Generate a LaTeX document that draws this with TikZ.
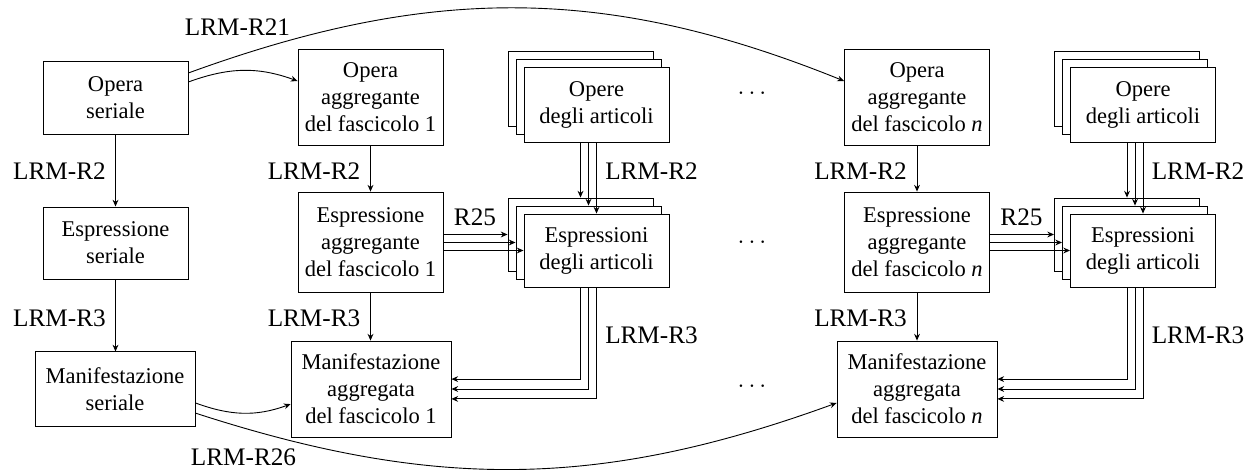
\documentclass[tikz,border=0pt]{standalone}
\usepackage{fontspec}
\setmainfont{Liberation Serif}
\usetikzlibrary{arrows.meta}
\begin{document}
\begin{tikzpicture}[x=0.444pt,y=0.444pt,
  box/.style={draw, fill=white, align=center, inner sep=0pt, font=\fontsize{10}{12}\selectfont, minimum width=64.4pt},
  lbl/.style={font=\fontsize{11.2}{13}\selectfont, inner sep=0pt},
  arr/.style={-{Stealth[length=3pt,width=2.6pt,inset=1pt]}}]
\useasboundingbox (0,0) rectangle (1247,470);

% left column
\node[box, minimum height=32.4pt] (os) at (115.5,372.5) {Opera\\seriale};
\node[box, minimum height=32pt] (es) at (115.5,227) {Espressione\\seriale};
\node[box, minimum width=71pt, minimum height=32.9pt] (ms) at (115,81) {Manifestazione\\seriale};

% issue 1
\node[box, minimum height=42.6pt] (oa1) at (370.5,373) {Opera\\aggregante\\del fascicolo 1};
\node[box, minimum height=44.8pt] (ea1) at (370.5,227.5) {Espressione\\aggregante\\del fascicolo 1};
\node[box, minimum width=71pt, minimum height=42.6pt] (ma1) at (371,81) {Manifestazione\\aggregata\\del fascicolo 1};

\node[box, minimum height=32.9pt] (o1b) at (580.5,381) {};
\node[box, minimum height=32.9pt] (o1m) at (588.5,373) {};
\node[box, minimum height=32.9pt] (o1f) at (596.5,365) {Opere\\degli articoli};
\node[box, minimum height=32.4pt] (e1b) at (580.5,235.5) {};
\node[box, minimum height=32.4pt] (e1m) at (588.5,227.5) {};
\node[box, minimum height=32.4pt] (e1f) at (596.5,219.5) {Espressioni\\degli articoli};

% issue n
\node[box, minimum height=42.6pt] (oan) at (917,373) {Opera\\aggregante\\del fascicolo \textit{n}};
\node[box, minimum height=44.8pt] (ean) at (917,227.5) {Espressione\\aggregante\\del fascicolo \textit{n}};
\node[box, minimum width=71pt, minimum height=42.6pt] (man) at (917,81) {Manifestazione\\aggregata\\del fascicolo \textit{n}};

\node[box, minimum height=32.9pt] (o2b) at (1127,381) {};
\node[box, minimum height=32.9pt] (o2m) at (1135,373) {};
\node[box, minimum height=32.9pt] (o2f) at (1143,365) {Opere\\degli articoli};
\node[box, minimum height=32.4pt] (e2b) at (1127,235.5) {};
\node[box, minimum height=32.4pt] (e2m) at (1135,227.5) {};
\node[box, minimum height=32.4pt] (e2f) at (1143,219.5) {Espressioni\\degli articoli};

% dots
\node[lbl] (d1) at (752,377) {$\ldots$};
\node[lbl] (d2) at (752,228) {$\ldots$};
\node[lbl] (d3) at (752,84) {$\ldots$};

% vertical arrows
\draw[arr] (os.south) -- (os.south |- es.north);
\draw[arr] (es.south) -- (es.south |- ms.north);
\draw[arr] (oa1.south) -- (oa1.south |- ea1.north);
\draw[arr] (ea1.south) -- (ea1.south |- ma1.north);
\draw[arr] (oan.south) -- (oan.south |- ean.north);
\draw[arr] (ean.south) -- (ean.south |- man.north);

% stacks: works -> expressions
\draw[arr] (o1b.south |- o1f.south) -- (e1b.north);
\draw[arr] (o1m.south |- o1f.south) -- (e1m.north);
\draw[arr] (o1f.south) -- (e1f.north);
\draw[arr] (o2b.south |- o2f.south) -- (e2b.north);
\draw[arr] (o2m.south |- o2f.south) -- (e2m.north);
\draw[arr] (o2f.south) -- (e2f.north);

% R25
\draw[arr] (ea1.east |- e1b.west) -- (e1b.west);
\draw[arr] (ea1.east |- e1m.west) -- (e1m.west);
\draw[arr] (ea1.east |- e1f.west) -- (e1f.west);
\draw[arr] (ean.east |- e2b.west) -- (e2b.west);
\draw[arr] (ean.east |- e2m.west) -- (e2m.west);
\draw[arr] (ean.east |- e2f.west) -- (e2f.west);

% expressions -> manifestation
\draw[arr] (e1b.south |- e1f.south) |- ([yshift=4.4pt]ma1.east);
\draw[arr] (e1m.south |- e1f.south) |- (ma1.east);
\draw[arr] (e1f.south) |- ([yshift=-4.4pt]ma1.east);
\draw[arr] (e2b.south |- e2f.south) |- ([yshift=4.4pt]man.east);
\draw[arr] (e2m.south |- e2f.south) |- (man.east);
\draw[arr] (e2f.south) |- ([yshift=-4.4pt]man.east);

% curves
\draw[arr] ([yshift=6.9pt]os.east) to[out=20,in=160] ([yshift=7.1pt]oa1.west);
\draw[arr] ([yshift=10.9pt]os.east) to[out=20,in=158] ([yshift=7.1pt]oan.west);
\draw[arr] ([yshift=-6.2pt]ms.east) to[out=-20,in=200] ([yshift=-6.7pt]ma1.west);
\draw[arr] ([yshift=-10.7pt]ms.east) to[out=-18,in=200] ([yshift=-6.2pt]man.west);

% labels
\node[lbl] (r21) at (237.5,443) {LRM-R21};
\node[lbl] (r26) at (243.5,13) {LRM-R26};
\node[lbl] (a1) at (59.5,299) {LRM-R2};
\node[lbl] (a2) at (59.5,152) {LRM-R3};
\node[lbl] (b1) at (314,299) {LRM-R2};
\node[lbl] (b2) at (314,152) {LRM-R3};
\node[lbl] (c1) at (860.5,299) {LRM-R2};
\node[lbl] (c2) at (860.5,152) {LRM-R3};
\node[lbl] (s1) at (475,253) {R25};
\node[lbl] (s2) at (1021.5,253) {R25};
\node[lbl] (t1) at (651.5,299) {LRM-R2};
\node[lbl] (t2) at (651.5,135) {LRM-R3};
\node[lbl] (u1) at (1198,299) {LRM-R2};
\node[lbl] (u2) at (1198,135) {LRM-R3};
\end{tikzpicture}
\end{document}
